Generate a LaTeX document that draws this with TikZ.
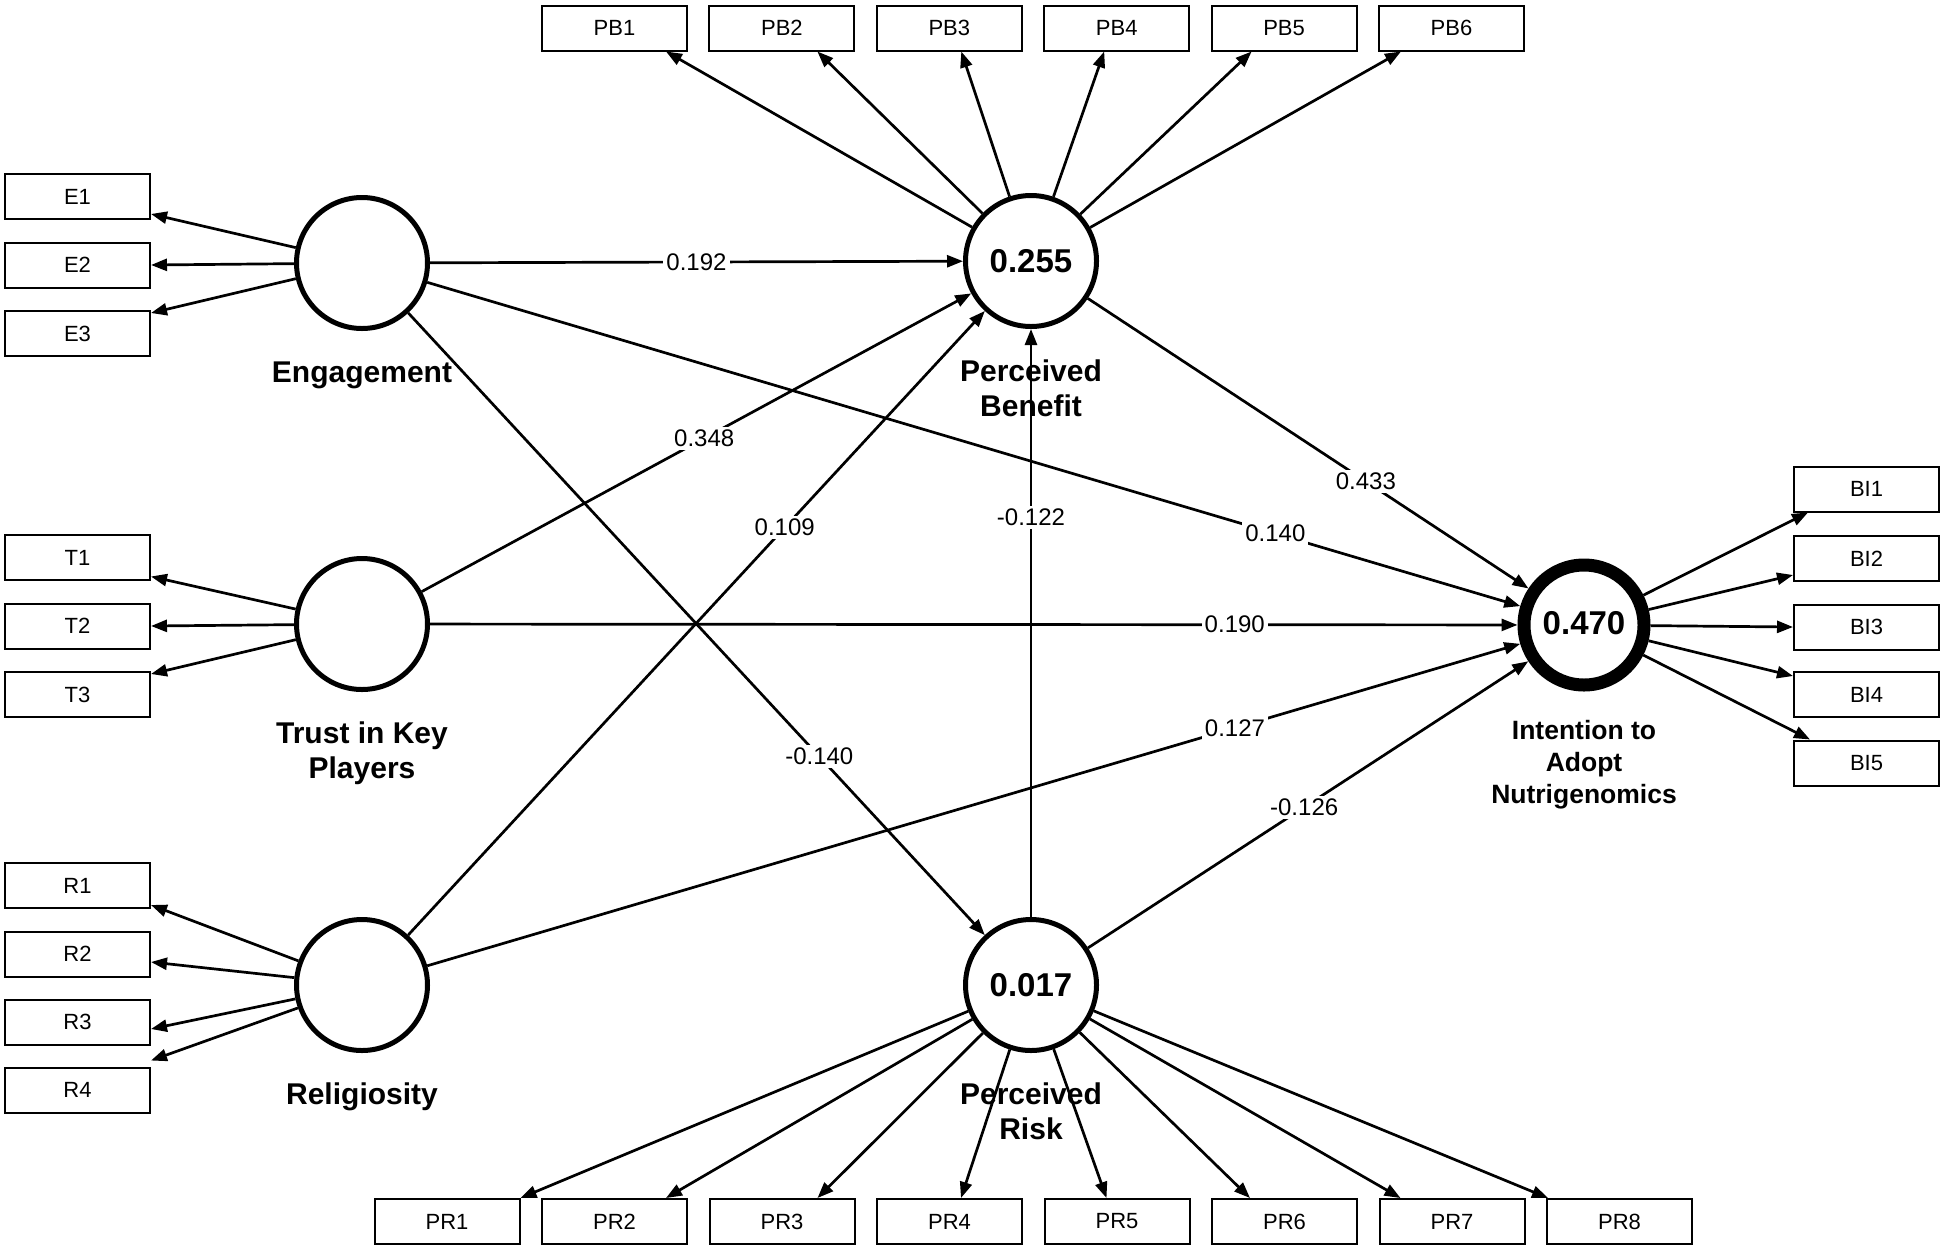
\documentclass[tikz,border=0pt]{standalone}
\usepackage{fontspec}
\setmainfont{Liberation Sans}
\usetikzlibrary{arrows.meta}
\begin{document}
\begin{tikzpicture}[x=1pt,y=1pt,
 lv/.style={circle, draw, line width=5pt, minimum size=131pt, inner sep=0pt, fill=white, font=\fontsize{33}{36}\selectfont\bfseries},
 lvthick/.style={lv, line width=13pt, minimum size=120pt},
 ind/.style={rectangle, draw, line width=2pt, minimum width=145pt, minimum height=45pt, inner sep=0pt, font=\fontsize{22}{24}\selectfont},
 lnk/.style={line width=2.7pt, -{Triangle[length=16pt,width=12pt]}},
 coef/.style={fill=white, inner sep=3pt, font=\fontsize{24}{26}\selectfont},
 lvname/.style={align=center, font=\fontsize{30}{35}\selectfont\bfseries, anchor=base},
 lvnamesm/.style={align=center, font=\fontsize{26.5}{32}\selectfont\bfseries, anchor=base}
]
\useasboundingbox (0,0) rectangle (1946,-1251);
\fill[white] (0,0) rectangle (1946,-1251);

% latent variables
\node[lv] (eng) at (362,-263) {};
\node[lv] (tru) at (362,-624) {};
\node[lv] (rel) at (362,-985) {};
\node[lv] (pb) at (1031,-261) {0.255};
\node[lv] (pr) at (1031,-985) {0.017};
\node[lvthick] (int) at (1584,-625) {\raisebox{4pt}{0.470}};

% names (anchor base = baseline of the last line)
\node[lvname] (engl) at (362,-382) {Engagement};
\node[lvname] (trul) at (362,-778) {Trust in Key\\Players};
\node[lvname] (rell) at (362,-1104) {Religiosity};
\node[lvname] (pbl) at (1031,-416) {Perceived\\Benefit};
\node[lvname] (prl) at (1031,-1139) {Perceived\\Risk};
\node[lvnamesm] (intl) at (1584,-803) {Intention to\\Adopt\\Nutrigenomics};

% indicators left
\node[ind] (E1) at (77.5,-196.5) {E1};
\node[ind] (E2) at (77.5,-265) {E2};
\node[ind] (E3) at (77.5,-333.5) {E3};
\node[ind] (T1) at (77.5,-557.5) {T1};
\node[ind] (T2) at (77.5,-626) {T2};
\node[ind] (T3) at (77.5,-694.5) {T3};
\node[ind] (R1) at (77.5,-885.5) {R1};
\node[ind] (R2) at (77.5,-954) {R2};
\node[ind] (R3) at (77.5,-1022) {R3};
\node[ind] (R4) at (77.5,-1090) {R4};

% indicators top
\foreach \i in {1,...,6} {
  \node[ind] (PB\i) at ({614.5+(\i-1)*167.4},-28) {PB\i};
}
% indicators bottom
\foreach \i in {1,...,8} {
  \node[ind] (PR\i) at ({447+(\i-1)*167.5},-1221.5) {PR\i};
}
% indicators right
\node[ind] (BI1) at (1866.5,-489) {BI1};
\node[ind] (BI2) at (1866.5,-558.5) {BI2};
\node[ind] (BI3) at (1866.5,-627) {BI3};
\node[ind] (BI4) at (1866.5,-694.5) {BI4};
\node[ind] (BI5) at (1866.5,-763) {BI5};

% loadings
\draw[lnk] (eng) -- ([yshift=6pt]E1.south east);
\draw[lnk] (eng) -- (E2.east);
\draw[lnk] (eng) -- ([yshift=-3pt]E3.north east);
\draw[lnk] (tru) -- ([yshift=4.5pt]T1.south east);
\draw[lnk] (tru) -- (T2.east);
\draw[lnk] (tru) -- ([yshift=-3pt]T3.north east);
\draw[lnk] (rel) -- ([yshift=4pt]R1.south east);
\draw[lnk] (rel) -- ([yshift=-8pt]R2.east);
\draw[lnk] (rel) -- ([yshift=-7pt]R3.east);
\draw[lnk] (rel) -- ([yshift=6pt]R4.north east);

\draw[lnk] (pb) -- ([xshift=51.5pt]PB1.south);
\draw[lnk] (pb) -- ([xshift=35.5pt]PB2.south);
\draw[lnk] (pb) -- ([xshift=12pt]PB3.south);
\draw[lnk] (pb) -- ([xshift=-12.5pt]PB4.south);
\draw[lnk] (pb) -- ([xshift=-32.5pt]PB5.south);
\draw[lnk] (pb) -- ([xshift=-50.5pt]PB6.south);

\draw[lnk] (pr) -- (PR1.north east);
\draw[lnk] (pr) -- ([xshift=51.5pt]PR2.north);
\draw[lnk] (pr) -- ([xshift=35.5pt]PR3.north);
\draw[lnk] (pr) -- ([xshift=11.5pt]PR4.north);
\draw[lnk] (pr) -- ([xshift=-10.5pt]PR5.north);
\draw[lnk] (pr) -- ([xshift=-34.5pt]PR6.north);
\draw[lnk] (pr) -- ([xshift=-51.5pt]PR7.north);
\draw[lnk] (pr) -- ([xshift=2pt]PR8.north west);

\draw[lnk] (int) -- ([xshift=15pt]BI1.south west);
\draw[lnk] (int) -- ([yshift=7pt]BI2.south west);
\draw[lnk] (int) -- (BI3.west);
\draw[lnk] (int) -- ([yshift=-5pt]BI4.north west);
\draw[lnk] (int) -- ([xshift=17pt]BI5.north west);

% structural paths
\draw[lnk] (eng) -- node[coef, pos=0.5] {0.192} (pb);
\draw[lnk] (tru) -- node[coef, pos=0.514] {0.348} (pb);
\draw[lnk] (rel) -- node[coef, pos=0.653] {0.109} (pb);
\draw[lnk] (pr) -- node[coef, pos=0.68] {-0.122} (pb);
\draw[lnk] (pb) -- node[coef, pos=0.631] {0.433} (int);
\draw[lnk] (eng) -- node[coef, pos=0.776] {0.140} (int);
\draw[lnk] (tru) -- node[coef, pos=0.740] {0.190} (int);
\draw[lnk] (rel) -- node[coef, pos=0.739] {0.127} (int);
\draw[lnk] (pr) -- node[coef, pos=0.491] {-0.126} (int);
\draw[lnk] (eng) -- node[coef, pos=0.713] {-0.140} (pr);
\end{tikzpicture}
\end{document}
